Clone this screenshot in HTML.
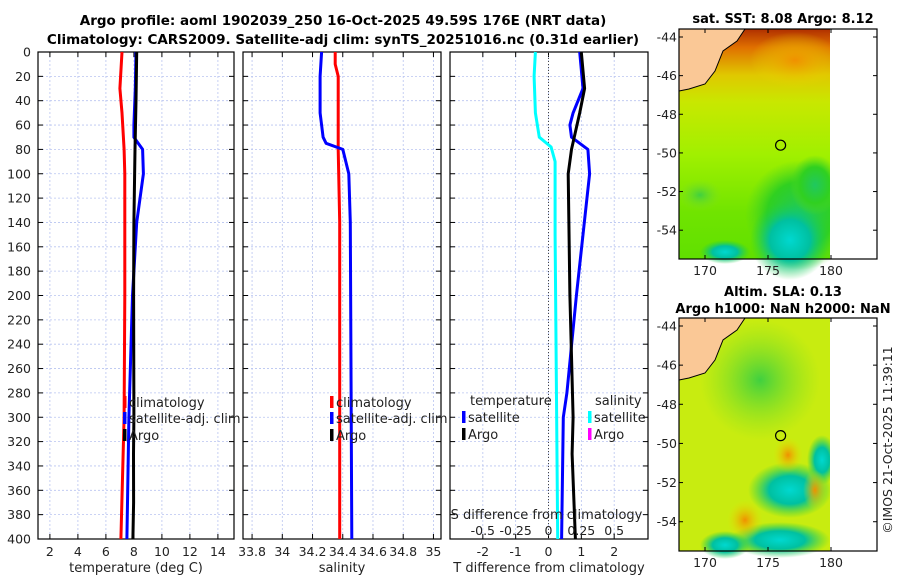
<!DOCTYPE html>
<html><head><meta charset="utf-8"><style>
body{margin:0;background:#fff;}
svg{display:block;font-family:"DejaVu Sans","Liberation Sans",sans-serif;}
</style></head><body>
<svg id="c" width="900" height="580" xmlns="http://www.w3.org/2000/svg">
<defs>
<linearGradient id="sstg" x1="0" y1="0" x2="0" y2="1">
<stop offset="0" stop-color="#b03000"/><stop offset="0.08" stop-color="#e07000"/><stop offset="0.2" stop-color="#e0c800"/><stop offset="0.32" stop-color="#c8e800"/><stop offset="0.55" stop-color="#a0f000"/><stop offset="0.8" stop-color="#70e400"/><stop offset="1" stop-color="#60e000"/>
</linearGradient>
<radialGradient id="teal"><stop offset="0" stop-color="#00d8d0"/><stop offset="0.5" stop-color="#00c0a0"/><stop offset="1" stop-color="#20d040" stop-opacity="0"/></radialGradient>
<radialGradient id="grn"><stop offset="0" stop-color="#20c860"/><stop offset="0.6" stop-color="#30d020"/><stop offset="1" stop-color="#50d820" stop-opacity="0"/></radialGradient>
<radialGradient id="org"><stop offset="0" stop-color="#f09000"/><stop offset="1" stop-color="#e8e000" stop-opacity="0"/></radialGradient>
<radialGradient id="gr2"><stop offset="0" stop-color="#40d040"/><stop offset="1" stop-color="#80e020" stop-opacity="0"/></radialGradient>
</defs>
<g font-weight="bold" font-size="13.5" text-anchor="middle" fill="#000">
<text x="343" y="25">Argo profile: aoml 1902039_250 16-Oct-2025 49.59S 176E (NRT data)</text>
<text x="343" y="44">Climatology: CARS2009. Satellite-adj clim: synTS_20251016.nc (0.31d earlier)</text>
</g>
<g id="plots"></g>
<g id="maps"></g>
</svg>
<script>
// ---- data ----
const depthTicks=[0,20,40,60,80,100,120,140,160,180,200,220,240,260,280,300,320,340,360,380,400];
const tempTicks=[2,4,6,8,10,12,14];
const salTicks=[33.8,34,34.2,34.4,34.6,34.8,35];
const tdTicks=[-2,-1,0,1,2];
const sdTicks=[-0.5,-0.25,0,0.25,0.5];
const sdTickLabels=["-0.5","-0.25","0","0.25","0.5"];

const tClimDepth=[0,30,50,80,100,140,200,300,400];
const tClim=[7.15,7.0,7.15,7.3,7.35,7.35,7.35,7.3,7.07];
const tSatDepth=[0,30,60,70,80,100,140,200,300,400];
const tSat=[8.15,8.1,8.0,8.0,8.62,8.68,8.2,7.9,7.64,7.5];
const tArgoDepth=[0,40,80,140,200,300,330,370,400];
const tArgo=[8.2,8.15,8.08,8.0,7.98,8.0,7.97,7.98,7.93];

const sClimDepth=[0,10,20,80,140,400];
const sClim=[34.35,34.35,34.37,34.37,34.38,34.38];
const sSatDepth=[0,20,50,60,70,75,80,100,140,400];
const sSat=[34.26,34.25,34.25,34.26,34.27,34.29,34.40,34.44,34.45,34.46];

const tdSatDepth=[0,30,50,60,70,80,100,150,200,280,300,400];
const tdSat=[0.95,1.05,0.75,0.65,0.7,1.2,1.25,1.05,0.85,0.56,0.45,0.4];
const tdArgoDepth=[0,30,50,80,100,200,300,330,400];
const tdArgo=[1.0,1.1,0.95,0.7,0.6,0.65,0.75,0.72,0.82];
const sdSatDepth=[0,20,50,70,78,90,150,400];
const sdSat=[-0.1,-0.11,-0.1,-0.07,0.02,0.05,0.05,0.07];

const NS="http://www.w3.org/2000/svg";
const root=document.getElementById('plots');
function mk(tag,attrs,parent){const e=document.createElementNS(NS,tag);for(const k in attrs)e.setAttribute(k,attrs[k]);(parent||root).appendChild(e);return e;}
function txt(x,y,s,attrs,parent){const e=mk('text',Object.assign({x:x,y:y},attrs||{}),parent);e.textContent=s;return e;}

const Y0=52,Y1=539;
const yS=d=>Y0+(d/400)*(Y1-Y0);

const panels=[
 {x0:38,x1:234,min:1.15,max:15.15,ticks:tempTicks,labels:tempTicks.map(String),xlabel:"temperature (deg C)",name:"temperature-panel"},
 {x0:243,x1:441,min:33.74,max:35.05,ticks:salTicks,labels:salTicks.map(String),xlabel:"salinity",name:"salinity-panel"},
 {x0:450,x1:648,min:-3.0,max:3.03,ticks:tdTicks,labels:tdTicks.map(String),xlabel:"T difference from climatology",name:"difference-panel"}
];
panels.forEach(p=>{p.sx=v=>p.x0+(v-p.min)/(p.max-p.min)*(p.x1-p.x0);});

panels.forEach((p,i)=>{
 const g=mk('g',{});
 
 
 mk('rect',{x:p.x0,y:Y0,width:p.x1-p.x0,height:Y1-Y0,fill:'#fff'},g);
 depthTicks.forEach(d=>{
  mk('line',{x1:p.x0,x2:p.x1,y1:yS(d),y2:yS(d),stroke:'#b8c4f0','stroke-width':0.8,'stroke-dasharray':'2,2'},g);
  mk('line',{x1:p.x0,x2:p.x0+5,y1:yS(d),y2:yS(d),stroke:'#000'},g);
  mk('line',{x1:p.x1,x2:p.x1-5,y1:yS(d),y2:yS(d),stroke:'#000'},g);
  if(i===0){const t=txt(31,yS(d)+4.5,String(d),{'font-size':12.5,'text-anchor':'end',fill:'#222'},g);
   }
 });
 p.ticks.forEach((v,k)=>{
  const x=p.sx(v);
  mk('line',{x1:x,x2:x,y1:Y0,y2:Y1,stroke:'#b8c4f0','stroke-width':0.8,'stroke-dasharray':'2,2'},g);
  mk('line',{x1:x,x2:x,y1:Y1,y2:Y1-5,stroke:'#000'},g);
  mk('line',{x1:x,x2:x,y1:Y0,y2:Y0+5,stroke:'#000'},g);
  const t=txt(x,556,p.labels[k],{'font-size':12.5,'text-anchor':'middle',fill:'#222'},g);
  
 });
 const xt=txt((p.x0+p.x1)/2,572,p.xlabel,{'font-size':13,'text-anchor':'middle',fill:'#222'},g);
 
 mk('rect',{x:p.x0,y:Y0,width:p.x1-p.x0,height:Y1-Y0,fill:'none',stroke:'#000','stroke-width':1.2},g);
});

function line(p,vals,depths,color,name,conv){
 const pts=vals.map((v,k)=>p.sx(conv?conv(v):v).toFixed(1)+','+yS(depths[k]).toFixed(1)).join(' ');
 const e=mk('polyline',{points:pts,fill:'none',stroke:color,'stroke-width':3,'stroke-linejoin':'round'});
 
 
}
const P=panels;
const z=mk('line',{x1:P[2].sx(0),x2:P[2].sx(0),y1:Y0,y2:Y1,stroke:'#444','stroke-width':1,'stroke-dasharray':'1,2'});


line(P[0],tClim,tClimDepth,'#ff0000','temp-climatology-line');
line(P[0],tSat,tSatDepth,'#0000ff','temp-satellite-line');
line(P[0],tArgo,tArgoDepth,'#000','temp-argo-line');
line(P[1],sClim,sClimDepth,'#ff0000','sal-climatology-line');
line(P[1],sSat,sSatDepth,'#0000ff','sal-satellite-line');
line(P[2],sdSat,sdSatDepth,'#00ffff','sdiff-satellite-line',v=>v*4);
line(P[2],tdSat,tdSatDepth,'#0000ff','tdiff-satellite-line');
line(P[2],tdArgo,tdArgoDepth,'#000','tdiff-argo-line');

function legItem(x,y,color,label,name){
 const g=mk('g',{});
 
 
 mk('rect',{x:x,y:y-11,width:3.5,height:12,fill:color},g);
 txt(x+6,y,label,{'font-size':13,fill:'#222'},g);
}
[[P[0],123],[P[1],330]].forEach(([p,x],i)=>{
 legItem(x,407,'#ff0000','climatology','legend-climatology');
 legItem(x,423,'#0000ff','satellite-adj. clim','legend-satellite-adj');
 legItem(x,440,'#000','Argo','legend-argo');
});
txt(470,405,'temperature',{'font-size':13,fill:'#222'});
legItem(462,422,'#0000ff','satellite','legend-temp-satellite');
legItem(462,439,'#000','Argo','legend-temp-argo');
txt(595,405,'salinity',{'font-size':13,fill:'#222'});
legItem(588,422,'#00ffff','satellite','legend-sal-satellite');
legItem(588,439,'#ff00ff','Argo','legend-sal-argo');
const sdt=txt(P[2].sx(0)-2,519,'S difference from climatology',{'font-size':13,'text-anchor':'middle',fill:'#222'});

sdTicks.forEach((v,k)=>{const t=txt(P[2].sx(v*4),535,sdTickLabels[k],{'font-size':12.5,'text-anchor':'middle',fill:'#222'});
 });

// ---- maps ----
const M=document.getElementById('maps');
function map(y0,y1,title,sub,isSST,name){
 const g=mk('g',{},M);
 
 
 const x0=679,x1=877,xd=830;
 const lat=v=>y0+8+(v-(-44))/(-10)*((y1-y0)*0.84);
 const lon=v=>705+(v-170)*(126/10);
 if(isSST){
  mk('rect',{x:x0,y:y0,width:xd-x0,height:y1-y0,fill:'url(#sstg)'},g);
  mk('ellipse',{cx:800,cy:215,rx:55,ry:55,fill:'url(#grn)'},g);
  mk('ellipse',{cx:790,cy:240,rx:40,ry:40,fill:'url(#teal)'},g);
  mk('ellipse',{cx:815,cy:185,rx:25,ry:30,fill:'url(#grn)'},g);
  mk('ellipse',{cx:700,cy:195,rx:22,ry:16,fill:'url(#gr2)'},g);
  mk('ellipse',{cx:725,cy:252,rx:25,ry:12,fill:'url(#teal)'},g);
  mk('ellipse',{cx:795,cy:60,rx:45,ry:28,fill:'url(#org)'},g);
 }else{
  mk('rect',{x:x0,y:y0,width:xd-x0,height:y1-y0,fill:'#c8ec10'},g);
  mk('ellipse',{cx:790,cy:490,rx:42,ry:28,fill:'url(#teal)'},g);
  mk('ellipse',{cx:822,cy:460,rx:15,ry:25,fill:'url(#teal)'},g);
  mk('ellipse',{cx:780,cy:540,rx:50,ry:18,fill:'url(#teal)'},g);
  mk('ellipse',{cx:725,cy:545,rx:25,ry:14,fill:'url(#teal)'},g);
  mk('ellipse',{cx:788,cy:455,rx:15,ry:18,fill:'url(#org)'},g);
  mk('ellipse',{cx:745,cy:520,rx:18,ry:20,fill:'url(#org)'},g);
  mk('ellipse',{cx:815,cy:490,rx:12,ry:20,fill:'url(#org)'},g);
  mk('ellipse',{cx:760,cy:380,rx:60,ry:60,fill:'url(#gr2)'},g);
 }
 mk('path',{d:`M${x0},${y0} L${x0+66},${y0} L${x0+58},${y0+12} L${x0+44},${y0+22} L${x0+36},${y0+42} L${x0+26},${y0+55} L${x0+10},${y0+60} L${x0},${y0+62} Z`,fill:'#fac896',stroke:'#000','stroke-width':1},g);
 mk('rect',{x:xd,y:y0,width:x1-xd,height:y1-y0,fill:'#fff'},g);
 mk('circle',{cx:lon(176),cy:lat(-49.6),r:5,fill:'none',stroke:'#000','stroke-width':1.2},g);
 mk('rect',{x:x0,y:y0,width:x1-x0,height:y1-y0,fill:'none',stroke:'#000','stroke-width':1.2},g);
 [-44,-46,-48,-50,-52,-54].forEach(v=>{
  const y=lat(v);
  mk('line',{x1:x0,x2:x0+4,y1:y,y2:y,stroke:'#000'},g);
  mk('line',{x1:x1,x2:x1-4,y1:y,y2:y,stroke:'#000'},g);
  txt(x0-2,y+4.5,String(v),{'font-size':12.5,'text-anchor':'end',fill:'#222'},g);
 });
 [170,175,180].forEach(v=>{
  const x=lon(v);
  mk('line',{x1:x,x2:x,y1:y1,y2:y1-4,stroke:'#000'},g);
  mk('line',{x1:x,x2:x,y1:y0,y2:y0+4,stroke:'#000'},g);
  txt(x,y1+16,String(v),{'font-size':12.5,'text-anchor':'middle',fill:'#222'},g);
 });
 txt(783,y0-(sub?22:6),title,{'font-size':13,'font-weight':'bold','text-anchor':'middle'},g);
 if(sub) txt(783,y0-5,sub,{'font-size':13,'font-weight':'bold','text-anchor':'middle'},g);
}
map(29,259,'sat. SST: 8.08 Argo: 8.12',null,true,'sst-map');
map(318,551,'Altim. SLA: 0.13','Argo h1000: NaN h2000: NaN',false,'sla-map');
const cp=txt(0,0,'©IMOS 21-Oct-2025 11:39:11',{'font-size':12.5,fill:'#222','text-anchor':'middle',transform:'translate(892,440) rotate(-90)'},M);

</script>
</body></html>
